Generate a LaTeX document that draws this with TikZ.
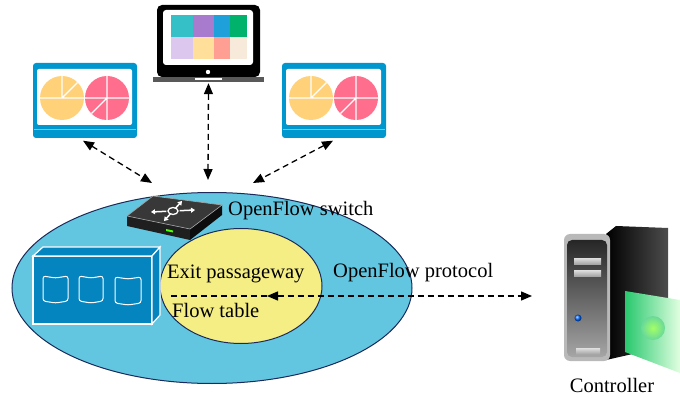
\documentclass[tikz,border=0pt]{standalone}
\usepackage{fontspec}
\setmainfont{Liberation Serif}
\usetikzlibrary{arrows.meta, positioning, shapes.geometric}
\definecolor{netblue}{HTML}{62C6E0}
\definecolor{navy}{HTML}{1B2A5A}
\definecolor{tabyellow}{HTML}{F5EE84}
\definecolor{boxblue}{HTML}{0585C0}
\definecolor{monblue}{HTML}{0096CE}
\definecolor{pieyellow}{HTML}{FFD279}
\definecolor{piepink}{HTML}{FF6E8C}
\definecolor{scrteal}{HTML}{35C0C8}
\definecolor{scrviolet}{HTML}{A87BCF}
\definecolor{scrblue}{HTML}{1FA0DA}
\definecolor{scrgreen}{HTML}{00B26C}
\definecolor{scrlilac}{HTML}{DCC8EE}
\definecolor{scrsand}{HTML}{FFDF99}
\definecolor{scrsalmon}{HTML}{FF9F94}
\definecolor{scrcream}{HTML}{F7EADB}
\definecolor{cardgreen}{HTML}{28C86E}

\begin{document}
\begin{tikzpicture}[x=1pt, y=-1pt,
  link/.style={arrows={Triangle[length=11pt, width=9pt]-Triangle[length=11pt, width=9pt]},
    dash pattern=on 6pt off 4pt, line width=1.3pt},
  txt/.style={font=\fontsize{20.5}{24}\selectfont, inner sep=0pt, anchor=base west},
  boxface/.style={draw=white, line width=1.2pt, fill=boxblue}]

\useasboundingbox (0,0) rectangle (680,398);

% Network area and flow table
\node[ellipse, draw=navy, line width=1pt, fill=netblue, minimum width=400pt, minimum height=191pt] (net) at (212,288) {};
\node[ellipse, draw=navy, line width=1pt, fill=tabyellow, minimum width=162pt, minimum height=115pt] (table) at (241,286) {};

% Storage box
\path[boxface] (33,256) rectangle (152,324);
\path[boxface] (33,256) -- (43,247) -- (160,247) -- (152,256) -- cycle;
\path[boxface] (152,256) -- (160,247) -- (160,315) -- (152,324) -- cycle;
\foreach \xa/\xb/\ta/\tb in {43/68/275/303, 79/103/275/303, 115/141/276/305} {
  \draw[white, line width=1pt, rounded corners=2.5pt]
    (\xa,\ta+1) -- ({(\xa+\xb)/2},\ta+3) -- (\xb,\ta+1) -- (\xb,\tb-2)
    -- ({(\xa+\xb)/2},\tb) -- (\xa,\tb-2) -- cycle;
}

% Switch
\fill[black!78] (127,216) -- (153,196) -- (222,205) -- (190,229) -- cycle;
\fill[black!88] (127,216) -- (190,229) -- (190,240) -- (127,226) -- cycle;
\fill[black!95] (190,229) -- (222,205) -- (222,215) -- (190,240) -- cycle;
\draw[gray!70, line width=0.6pt] (127,216) -- (153,196) -- (222,205) -- (190,229) -- cycle;
\draw[white, line width=1.3pt] (173,211) ellipse (5 and 3.5);
\foreach \dx/\dy in {-22/1, 22/-1, 9/-10, -9/10} {
  \draw[white, line width=1.5pt, -{Triangle[length=4pt, width=5pt]}]
    ({173+\dx*0.3},{211+\dy*0.3}) -- ({173+\dx},{211+\dy});
}
\fill[green!70!yellow] (166,229) -- (173,230.5) -- (173,232.5) -- (166,231) -- cycle;

% Blue monitors
\foreach \cx/\nm in {85/pcleft, 334/pcright} {
  \begin{scope}[shift={(\cx,100)}]
    \fill[monblue, rounded corners=3pt] (-52,-37) rectangle (52,38);
    \fill[white, rounded corners=2pt] (-48,-31) rectangle (47,25);
    \draw[monblue!55!white, line width=0.6pt] (-51,29) -- (51,29);
    \fill[pieyellow] (-23,-2) circle (22);
    \fill[piepink] (22,-2) circle (22);
    \draw[white, line width=1.3pt] (-45,-2) -- (-1,-2) (-23,-2) -- (-23,-24) (-23,-2) -- (-7.4,-17.6);
    \draw[white, line width=1.3pt] (0,-2) -- (44,-2) (22,-24) -- (22,20) (22,-2) -- (6.4,13.6);
    \node[inner sep=0pt, minimum width=104pt, minimum height=75pt] (\nm) at (0,0) {};
  \end{scope}
}

% Black laptop
\fill[black, rounded corners=5pt] (157,5) rectangle (260,77);
\fill[white, rounded corners=3pt] (163,10) rectangle (253,65);
\foreach \xa/\xb/\ca/\cb in {171/193/scrteal/scrlilac, 193/214/scrviolet/scrsand,
                             214/230/scrblue/scrsalmon, 230/247/scrgreen/scrcream} {
  \fill[\ca] (\xa,15) rectangle (\xb,37);
  \fill[\cb] (\xa,37) rectangle (\xb,59);
}
\fill[gray!70!black] (153,77) rectangle (264,82);
\fill[white] (195,78) rectangle (222,80);
\fill[white] (208,72) circle (2.2);
\node[inner sep=0pt, minimum width=107pt, minimum height=77pt] (pcmid) at (208.5,43.5) {};

% Controller
\shade[left color=black, right color=black!70] (606,234) -- (616,226) -- (668,228) -- (668,346) -- (606,360) -- cycle;
\fill[gray!55, rounded corners=6pt] (564,234) rectangle (610,361);
\shade[top color=black!85, bottom color=gray!70, rounded corners=5pt] (567,240) rectangle (607,357);
\foreach \sy in {258, 270} {
  \shade[top color=gray!25, bottom color=gray!70] (574,\sy) rectangle (601,\sy+6);
}
\shade[top color=gray!25, bottom color=gray!70] (576,348) rectangle (600,354);
\shade[ball color=blue!60!cyan] (578,318) circle (3.5);
\shade[left color=cardgreen, right color=green!12] (625,291) -- (680,300) -- (680,373) -- (625,352) -- cycle;
\shade[inner color=yellow!40!green!60!white, outer color=cardgreen!70!white] (653,328) circle (12);
\node[inner sep=0pt, minimum width=116pt, minimum height=140pt] (ctrl) at (622,297) {};

% Links
\coordinate (swleft) at (152,183);
\coordinate (swtop) at (208,180);
\coordinate (swright) at (253,183);
\coordinate (tabin) at (267,296);
\coordinate (exitend) at (168,296);
\coordinate (ctrlin) at (532,296);
\draw[link] ([shift={(-2,3)}]pcleft.south) -- (swleft);
\draw[link] ([shift={(0,1)}]pcmid.south) -- (swtop);
\draw[link] ([shift={(-1,3)}]pcright.south) -- (swright);
\draw[link] (tabin) -- (ctrlin);
\draw[link, -] (tabin) -- (exitend);

% Labels
\node[txt] (swlabel) at (228,215) {OpenFlow switch};
\node[txt] (exitlabel) at (167,278) {Exit passageway};
\node[txt] (flowlabel) at (172,317) {Flow table};
\node[txt] (protolabel) at (333,277) {OpenFlow protocol};
\node[txt, anchor=base] (ctrllabel) at (612,392) {Controller};

\end{tikzpicture}
\end{document}
